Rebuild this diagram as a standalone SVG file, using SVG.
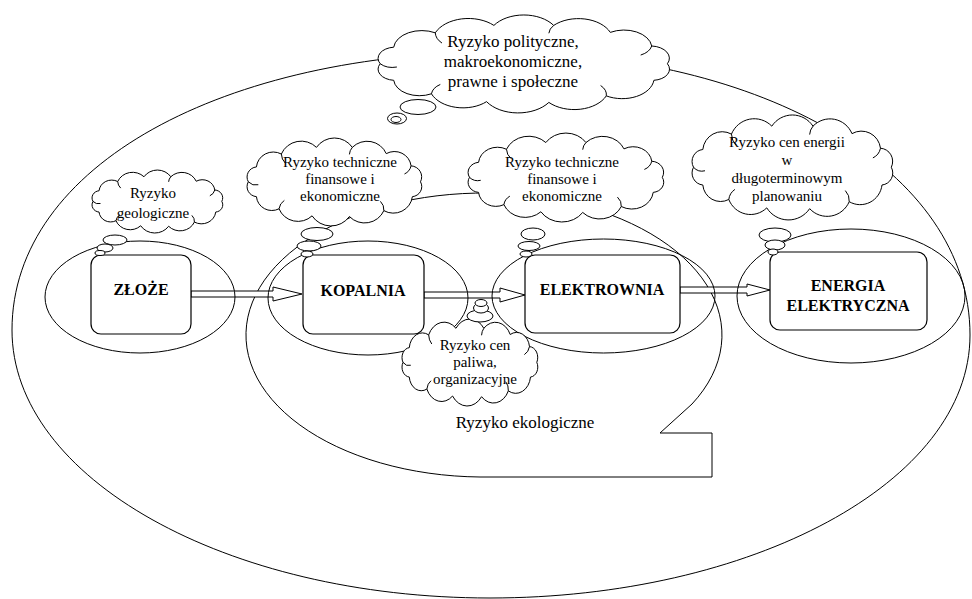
<svg xmlns="http://www.w3.org/2000/svg" width="972" height="599" viewBox="0 0 972 599">
<style>
.ln{fill:none;stroke:#000;stroke-width:1}
.box{fill:#fff;stroke:#000;stroke-width:1.2}
.arr{fill:#fff;stroke:#000;stroke-width:1}
.bub{fill:#fff;stroke:#000;stroke-width:1}
text{font-family:'Liberation Serif','Times New Roman','DejaVu Serif',serif;fill:#000;text-anchor:middle}
.nt{font-weight:bold;font-size:16px}
.ct{font-size:15px}
.bt{font-size:17px}
</style>
<defs>
<g id="cloud">
<path fill="#fff" stroke="#000" stroke-width="1" vector-effect="non-scaling-stroke" d="M14,50 A10.3,10.3 0 0 1 22.1,34.8 A16.9,16.9 0 0 1 47,21.6 A21.5,21.5 0 0 1 82.1,14.8 A21.5,21.5 0 0 1 117.9,14.8 A20.7,20.7 0 0 1 151.8,21.2 A16.7,16.7 0 0 1 176.6,33.7 A11.3,11.3 0 0 1 186,50 A10.3,10.3 0 0 1 177.9,65.2 A19.1,19.1 0 0 1 149.4,79.5 A20.9,20.9 0 0 1 115,85.5 A22.4,22.4 0 0 1 77.7,84.8 A20.3,20.3 0 0 1 44.7,77.6 A15.5,15.5 0 0 1 22.1,65.2 A10.3,10.3 0 0 1 14,50 Z"/>
<path fill="none" stroke="#000" stroke-width="1" vector-effect="non-scaling-stroke" d="M47,21.6 A14,14 0 0 0 51,31 M176.6,33.7 A12,12 0 0 1 170,42 M149.4,79.5 A12,12 0 0 0 146,70 M44.7,77.6 A12,12 0 0 1 50,69 M14,50 A10,10 0 0 0 24,53 M117.9,14.8 A12,12 0 0 0 115,22"/>
</g>
</defs>

<g id="outer-risk">
<path class="ln" d="M12,330 C12,165 225,52 500,52 C762,52 970,170 970,335 C970,483 750,598 490,598 C226,598 12,478 12,330 Z"/>
</g>

<g id="ecological-risk">
<path class="ln" d="M660,433 L692,404 A238,142 0 1 0 480,477 L712,477 L712,433 Z"/>
<text class="bt" x="525" y="428" font-family="Liberation Serif, serif">Ryzyko ekologiczne</text>
</g>

<g id="connectors">
<path class="arr" d="M191,291 L273,291 L273,287 L302,294 L273,301 L273,297 L191,297 Z"/>
<path class="arr" d="M424,292 L500,292 L500,288 L525,295 L500,302 L500,298 L424,298 Z"/>
<path class="arr" d="M680,287 L747,287 L747,284 L770,290 L747,296 L747,293 L680,293 Z"/>
</g>

<g id="zloze">
<ellipse class="ln" cx="140" cy="297" rx="95" ry="56"/>
<rect class="box" x="91" y="255" width="100" height="79" rx="10"/>
<text class="nt" x="141" y="295">ZŁOŻE</text>
</g>

<g id="kopalnia">
<ellipse class="ln" cx="368" cy="298" rx="100" ry="57"/>
<rect class="box" x="303" y="255" width="121" height="79" rx="10"/>
<text class="nt" x="363" y="296">KOPALNIA</text>
</g>

<g id="elektrownia">
<ellipse class="ln" cx="603.5" cy="296" rx="111.5" ry="57"/>
<rect class="box" x="525" y="255" width="155" height="78" rx="10"/>
<text class="nt" x="602" y="295">ELEKTROWNIA</text>
</g>

<g id="energia">
<ellipse class="ln" cx="851" cy="296" rx="114" ry="67"/>
<rect class="box" x="770" y="252" width="157" height="78" rx="10"/>
<text class="nt" x="848" y="291">ENERGIA</text>
<text class="nt" x="848" y="311">ELEKTRYCZNA</text>
</g>

<g id="cloud-political">
<use href="#cloud" transform="translate(356.8,9.3) scale(1.670,1.089)"/>
<ellipse class="bub" cx="418" cy="107" rx="18" ry="7.5"/>
<ellipse class="bub" cx="397" cy="118.5" rx="9.5" ry="5.5"/>
<ellipse class="bub" cx="396" cy="119.5" rx="5" ry="3"/>
<text class="bt" x="513" y="47">Ryzyko polityczne,</text>
<text class="bt" x="513" y="67">makroekonomiczne,</text>
<text class="bt" x="513" y="87">prawne i społeczne</text>
</g>

<g id="cloud-geological">
<use href="#cloud" transform="translate(82.5,166.4) scale(0.749,0.70)"/>
<ellipse class="bub" cx="115" cy="240" rx="12" ry="5"/>
<ellipse class="bub" cx="105" cy="248" rx="8" ry="4"/>
<ellipse class="bub" cx="100" cy="253" rx="5" ry="2.5"/>
<text class="ct" x="153" y="198">Ryzyko</text>
<text class="ct" x="153" y="218">geologiczne</text>
</g>

<g id="cloud-technical-1">
<use href="#cloud" transform="translate(234.3,132.9) scale(1.001,0.978)"/>
<ellipse class="bub" cx="317" cy="234" rx="16" ry="6.5"/>
<ellipse class="bub" cx="309" cy="246" rx="12" ry="5"/>
<ellipse class="bub" cx="307" cy="254" rx="6" ry="3"/>
<text class="ct" x="340" y="167">Ryzyko techniczne</text>
<text class="ct" x="340" y="184">finansowe i</text>
<text class="ct" x="340" y="201">ekonomiczne</text>
</g>

<g id="cloud-technical-2">
<use href="#cloud" transform="translate(453.8,127.9) scale(1.121,0.989)"/>
<ellipse class="bub" cx="533" cy="234" rx="12" ry="6"/>
<ellipse class="bub" cx="529" cy="246" rx="11" ry="4.5"/>
<ellipse class="bub" cx="526" cy="254" rx="6" ry="3"/>
<text class="ct" x="562" y="167">Ryzyko techniczne</text>
<text class="ct" x="562" y="184">finansowe i</text>
<text class="ct" x="562" y="201">ekonomiczne</text>
</g>

<g id="cloud-energy-price">
<use href="#cloud" transform="translate(677.4,108.9) scale(1.150,1.167)"/>
<ellipse class="bub" cx="775" cy="235" rx="16" ry="7"/>
<ellipse class="bub" cx="775" cy="245" rx="10" ry="5"/>
<ellipse class="bub" cx="773" cy="252" rx="5" ry="3"/>
<text class="ct" x="787" y="147">Ryzyko cen energii</text>
<text class="ct" x="787" y="165">w</text>
<text class="ct" x="787" y="183">długoterminowym</text>
<text class="ct" x="787" y="201">planowaniu</text>
</g>

<g id="cloud-fuel">
<use href="#cloud" transform="translate(392.1,314) scale(0.778,0.967)"/>
<ellipse class="bub" cx="480" cy="316" rx="13" ry="6"/>
<ellipse class="bub" cx="481" cy="308" rx="7.5" ry="5"/>
<ellipse class="bub" cx="481" cy="303" rx="6" ry="3.5"/>
<text class="ct" x="475" y="350">Ryzyko cen</text>
<text class="ct" x="475" y="367">paliwa,</text>
<text class="ct" x="475" y="384">organizacyjne</text>
</g>
</svg>
